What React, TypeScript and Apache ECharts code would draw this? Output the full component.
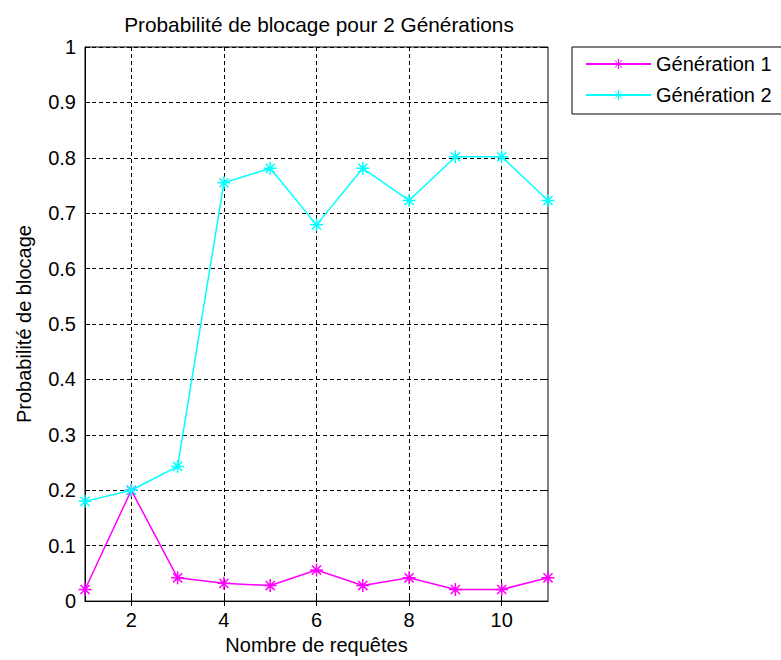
import React, { useEffect, useRef } from "react";
import * as echarts from "echarts";

const requests = [1, 2, 3, 4, 5, 6, 7, 8, 9, 10, 11];
const gen1 = [0.021, 0.2, 0.042, 0.032, 0.028, 0.056, 0.028, 0.042, 0.021, 0.021, 0.042];
const gen2 = [0.18, 0.2, 0.243, 0.755, 0.781, 0.679, 0.781, 0.723, 0.802, 0.802, 0.723];
const seriesNames = ["Génération 1", "Génération 2"];
const xTicks = [2, 4, 6, 8, 10];

const STAR = "path://M0,-10L0,10M-10,0L10,0M-7,-7L7,7M-7,7L7,-7";
const FONT = "Liberation Sans, Arial, sans-serif";
const FS = 20;

export default function App() {
  const ref = useRef<HTMLDivElement>(null);
  useEffect(() => {
    const chart = echarts.init(ref.current!, null, { renderer: "svg" });
    const mk = (name: string, data: number[], color: string) => ({
      name,
      type: "line",
      data: requests.map((x, i) => [x, data[i]]),
      symbol: STAR,
      symbolSize: 13,
      showSymbol: true,
      lineStyle: { color, width: 1.5 },
      itemStyle: { color, borderColor: color, borderWidth: 1.5 },
      emphasis: { disabled: true },
    });
    const tickLabelStyle = { color: "#000", fontSize: FS, fontFamily: FONT };
    const grid = { color: "#000", type: [4, 3], width: 1 };
    const tick = { show: true, inside: true, length: 5, lineStyle: { color: "#000" } };
    chart.setOption({
      animation: false,
      backgroundColor: "#fff",
      title: {
        text: "Probabilité de blocage pour 2 Générations",
        left: 314,
        textAlign: "center",
        top: 9,
        textStyle: { color: "#000", fontSize: 20.8, fontWeight: "normal", fontFamily: FONT },
      },
      legend: {
        left: 572,
        top: 47,
        orient: "vertical",
        data: seriesNames,
        itemWidth: 65,
        itemHeight: 13,
        itemGap: 11,
        padding: [7, 30, 9, 13],
        borderColor: "#000",
        borderWidth: 1,
        itemStyle: { borderWidth: 1 },
        textStyle: { color: "#000", fontSize: FS, fontFamily: FONT },
      },
      grid: { left: 85, right: 233, top: 47, bottom: 58, show: true, borderColor: "#000", borderWidth: 1 },
      xAxis: [
        {
          type: "value",
          min: 1,
          max: 11,
          name: "Nombre de requêtes",
          nameLocation: "middle",
          nameGap: 32,
          nameTextStyle: { color: "#000", fontSize: FS, fontFamily: FONT },
          axisLine: { show: true, lineStyle: { color: "#000", width: 1 } },
          axisTick: { ...tick, customValues: xTicks },
          axisLabel: { ...tickLabelStyle, margin: 9, customValues: xTicks },
          splitLine: { show: true, lineStyle: grid },
        },
        {
          type: "value",
          min: 1,
          max: 11,
          position: "top",
          axisLine: { show: false },
          axisTick: { ...tick, customValues: xTicks },
          axisLabel: { show: false, customValues: xTicks },
          splitLine: { show: false },
        },
      ],
      yAxis: [
        {
          type: "value",
          min: 0,
          max: 1,
          interval: 0.1,
          name: "Probabilité de blocage",
          nameLocation: "middle",
          nameGap: 51,
          nameTextStyle: { color: "#000", fontSize: FS, fontFamily: FONT },
          axisLine: { show: true, lineStyle: { color: "#000", width: 1 } },
          axisTick: tick,
          axisLabel: { ...tickLabelStyle, margin: 9, formatter: (v: number) => String(Math.round(v * 10) / 10) },
          splitLine: { show: true, lineStyle: grid },
        },
        {
          type: "value",
          min: 0,
          max: 1,
          interval: 0.1,
          position: "right",
          axisLine: { show: false },
          axisTick: tick,
          axisLabel: { show: false },
          splitLine: { show: false },
        },
      ],
      series: [mk(seriesNames[0], gen1, "#ff00ff"), mk(seriesNames[1], gen2, "#00ffff")],
    });
    return () => chart.dispose();
  }, []);
  return <div ref={ref} style={{ position: "fixed", left: 0, top: 0, width: 781, height: 660 }} />;
}
